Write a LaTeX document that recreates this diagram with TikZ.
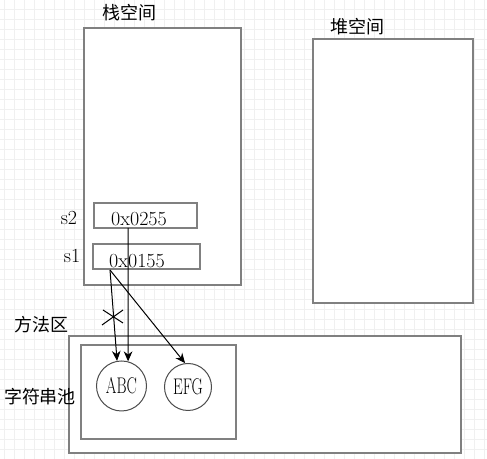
\documentclass[tikz,border=0pt]{standalone}
\usepackage{fontspec}
\usepackage{graphicx}
\newfontfamily\cjk{Noto Sans CJK SC}
\usetikzlibrary{positioning, arrows.meta}

\tikzset{
  gridline/.style={black!6, line width=0.6pt},
  wh/.style 2 args={minimum width=#1*0.75pt, minimum height=#2*0.75pt},
  box/.style={draw=black!50, line width=1.5pt, inner sep=0pt},
  strnode/.style={circle, draw=black!70, line width=0.75pt, inner sep=0pt},
  lab/.style={font=\cjk\fontsize{13.5}{16}\selectfont, inner sep=0pt},
  addr/.style={font=\fontsize{15}{18}\selectfont, inner sep=0pt},
  ref/.style={-{Stealth[length=7.5pt, width=6.5pt]}, line width=0.75pt}
}

\begin{document}
\begin{tikzpicture}[x=0.75pt, y=-0.75pt]
  \useasboundingbox (0,0) rectangle (487,459);
  \fill[white] (0,0) rectangle (487,459);

  % Background grid
  \foreach \x in {4,14,...,484}
    \draw[gridline] (\x,0) -- (\x,459);
  \foreach \y in {9,19,...,449}
    \draw[gridline] (0,\y) -- (487,\y);

  % Stack and heap
  \node[box, wh={157}{257}, fill=white] (stack) at (162.5,156.5) {};
  \node[box, wh={160}{264}, fill=white] (heap) at (393,171) {};
  \node[lab] (stacklab) at (130,13) {栈空间};
  \node[lab] (heaplab) at (357,27) {堆空间};

  % Variables on the stack
  \node[box, wh={103}{25}] (s2) at (145.5,215.5) {};
  \node[box, wh={107}{25}] (s1) at (146.5,256.5) {};
  \node[addr] (s2val) at (139,219) {0x0255};
  \node[addr] (s1val) at (137,261) {0x0155};
  \node[addr] (s2lab) at (69,218) {s2};
  \node[addr] (s1lab) at (72,256) {s1};

  % Method area and string pool
  \node[box, wh={392}{117}, fill=white] (method) at (265,394.5) {};
  \node[box, wh={155}{94}] (pool) at (158.5,392) {};
  \node[lab] (methodlab) at (42,325) {方法区};
  \node[lab] (poollab) at (40,397) {字符串池};

  % Strings in the pool
  \node[strnode, minimum size=50*0.75pt] (abc) at (121.5,386)
    {\fontsize{17}{19}\selectfont\scalebox{0.68}[1]{ABC}};
  \node[strnode, minimum size=47*0.75pt] (efg) at (188,387)
    {\fontsize{17}{19}\selectfont\scalebox{0.68}[1]{EFG}};

  % References
  \coordinate (s2out) at (128,228);
  \coordinate (s1out) at (110,270);
  \draw[ref] (s2out) -- (abc.75);
  \draw[ref] (s1out) -- (abc.100);
  \draw[ref] (s1out) -- (efg.97);

  % Old reference crossed out
  \draw[line width=0.75pt] (102,325) -- (123,310);
  \draw[line width=0.75pt] (103,310) -- (123,323);
\end{tikzpicture}
\end{document}
